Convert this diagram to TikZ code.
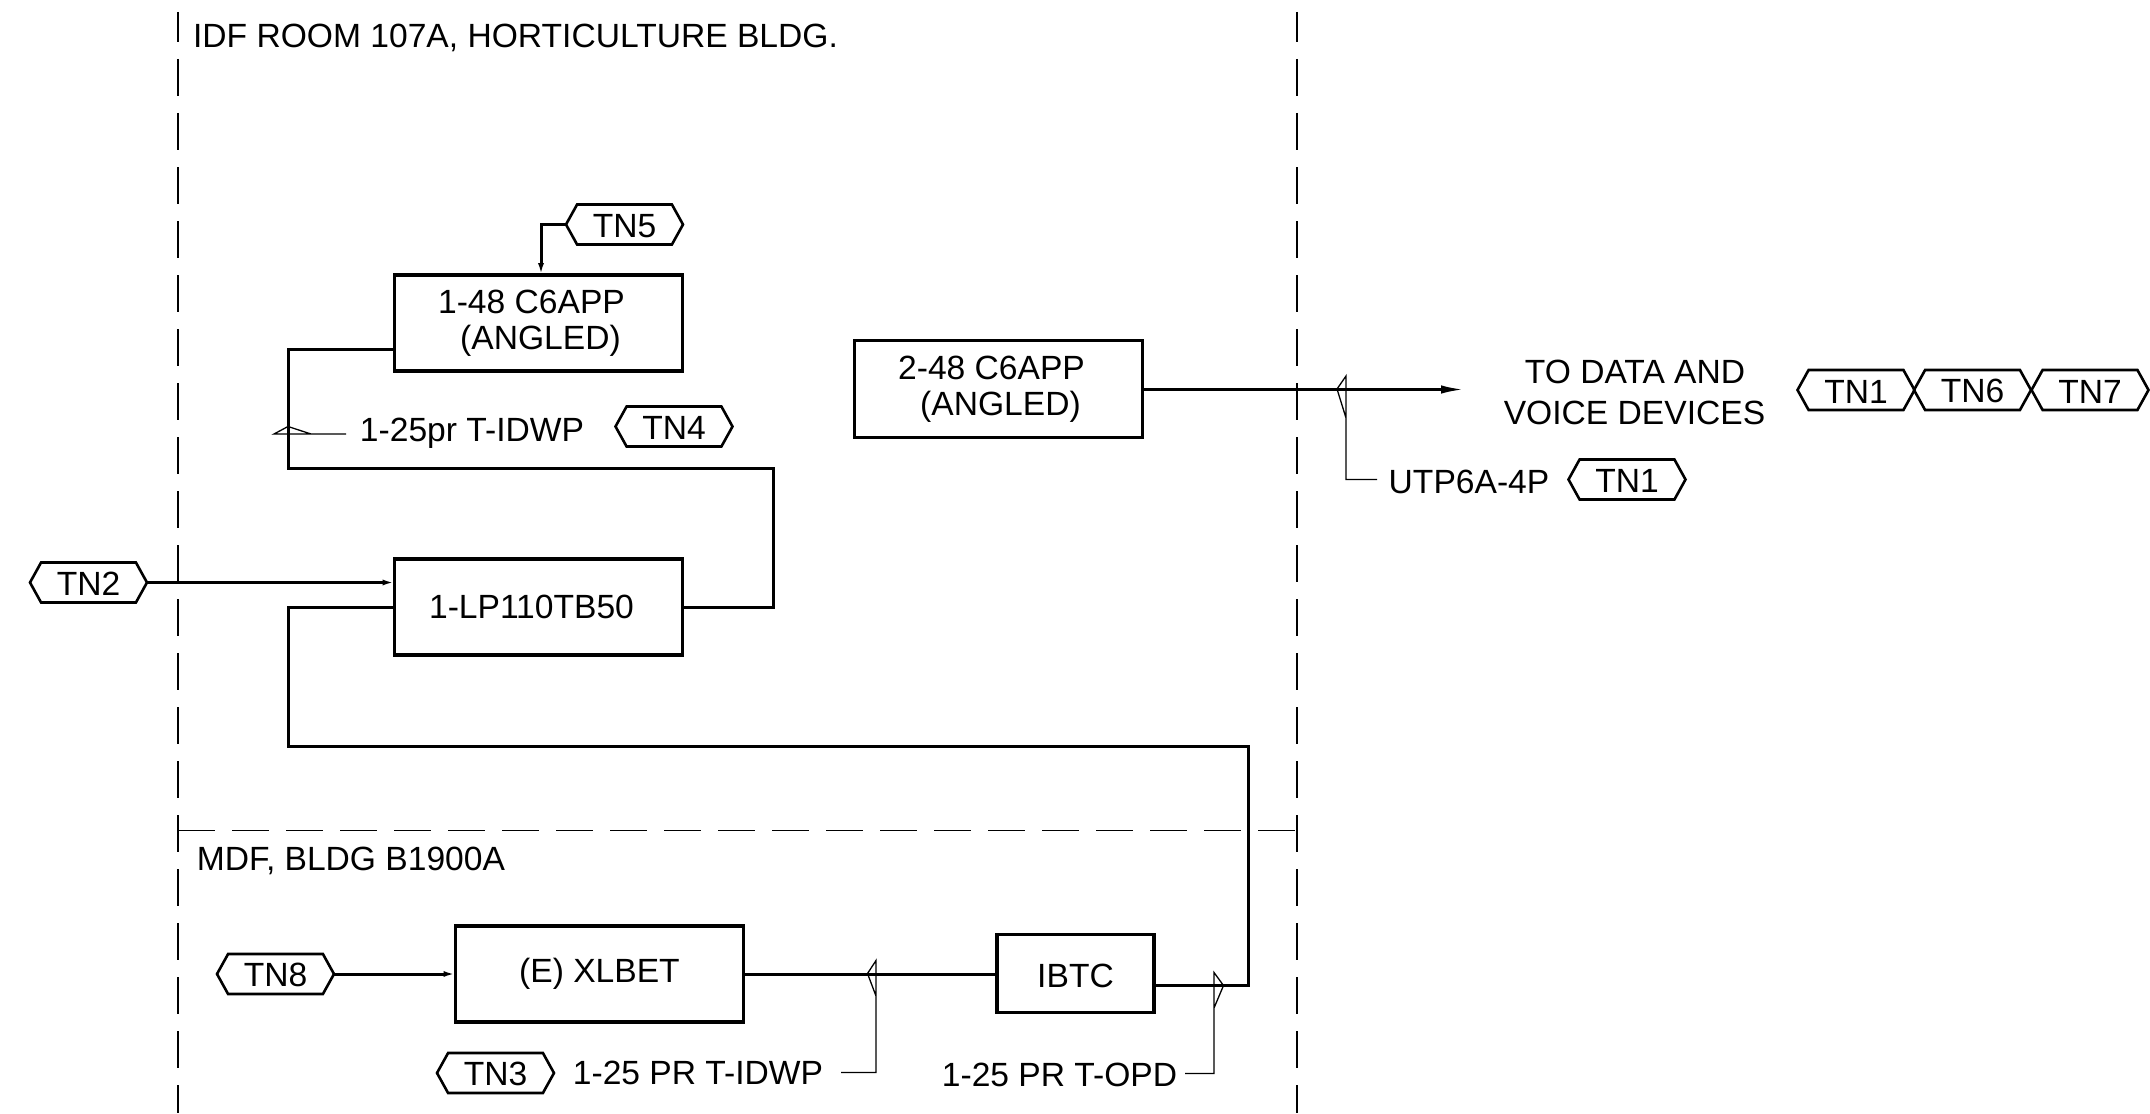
\documentclass[tikz,border=0pt]{standalone}
\usepackage{fontspec}
\setmainfont{Liberation Sans}
\usetikzlibrary{shapes.symbols,arrows.meta}
\tikzset{
  x=0.5pt,y=-0.5pt,
  every node/.style={font=\fontsize{16.8}{18}\selectfont,inner sep=0pt,outer sep=0pt},
  boxnode/.style={draw,line width=1.8pt,minimum width=#1,line join=miter},
  wire/.style={line width=1.5pt,line join=miter},
  thinwire/.style={line width=0.65pt,line join=miter},
  bound/.style={line width=0.75pt,dash pattern=on 18.5pt off 8.5pt},
  tag/.style={draw,line width=1.3pt,shape=signal,signal to=east and west,signal pointer angle=122,minimum width=58.5pt,minimum height=20pt,text height=13pt},
  smallhead/.style={-{Latex[length=6pt,width=3pt]}},
  bighead/.style={-{Latex[length=12pt,width=4.2pt]}},
}
\begin{document}
\begin{tikzpicture}
\useasboundingbox (0,0) rectangle (2150,1113);
% boundaries
\coordinate (vlt) at (178,12); \coordinate (vlb) at (178,1113);
\coordinate (vrt) at (1297,12); \coordinate (vrb) at (1297,1113);
\coordinate (hl) at (178,830.5); \coordinate (hr) at (1297,830.5);
\draw[bound,dash phase=3.5pt] (vlt) -- (vlb);
\draw[bound,dash phase=3.5pt] (vrt) -- (vrb);
\draw[bound] (hl) -- (hr);
% boxes
\node[boxnode=144pt,minimum height=48pt] (box1) at (538.5,323) {};
\node[boxnode=144pt,minimum height=48.5pt] (box2) at (998.5,389) {};
\node[boxnode=144pt,minimum height=48pt] (box3) at (538.5,607) {};
\node[boxnode=144pt,minimum height=48pt] (xlbet) at (599.5,974) {};
\node[boxnode=78.5pt,minimum height=39pt] (ibtc) at (1075.5,973.5) {};
% box texts
\node (t1a) at (531.5,302) {1-48 C6APP};
\node (t1b) at (540.5,340.5) {(ANGLED)};
\node (t2a) at (991.5,367.5) {2-48 C6APP};
\node (t2b) at (1000.5,406.5) {(ANGLED)};
\node (t3) at (531.5,606.5) {1-LP110TB50};
\node (t4) at (599.5,973.5) {(E) XLBET};
\node (t5) at (1075.5,976) {IBTC};
% tags
\node[tag] (tn5) at (624.5,224.5) {TN5};
\node[tag] (tn4) at (674,426.5) {TN4};
\node[tag] (tn2) at (88.5,582.5) {TN2};
\node[tag] (tn8) at (275.5,974) {TN8};
\node[tag] (tn3) at (495.5,1073) {TN3};
\node[tag] (tn1a) at (1856,390) {TN1};
\node[tag] (tn6) at (1972.5,390) {TN6};
\node[tag] (tn7) at (2090,390) {TN7};
\node[tag] (tn1b) at (1627,479.5) {TN1};
% labels
\node (lidf) at (515.5,38) {IDF ROOM 107A, HORTICULTURE BLDG.};
\node (lmdf) at (351,861) {MDF, BLDG B1900A};
\node (l25a) at (472,433) {1-25pr T-IDWP};
\node (l25b) at (698,1072.5) {1-25 PR T-IDWP};
\node (l25c) at (1059.5,1074.5) {1-25 PR T-OPD};
\node (lutp) at (1469,481.5) {UTP6A-4P};
\node (lto1) at (1635,372) {TO DATA AND};
\node (lto2) at (1634.5,413) {VOICE DEVICES};
% wiring bends and ends
\coordinate (a1) at (541,224.5);
\coordinate (a2) at (541,275);
\coordinate (b1) at (394.5,349.5);
\coordinate (b2) at (288,349.5);
\coordinate (b3) at (288,468);
\coordinate (b4) at (773.5,468);
\coordinate (b5) at (773.5,607);
\coordinate (c1) at (288,607);
\coordinate (c2) at (288,746);
\coordinate (c3) at (1248,746);
\coordinate (c4) at (1248,985);
\coordinate (c5) at (1154.5,985);
\coordinate (d1) at (394.5,582.5);
\coordinate (e1) at (1142.5,389.5);
\coordinate (e2) at (1465,389.5);
\coordinate (f1) at (743.5,974);
\coordinate (f2) at (997,974);
% connectors
\draw[wire,smallhead] (tn5.west) -- (a1) -- (a2);
\draw[wire] (b1) -- (b2) -- (b3) -- (b4) -- (b5) -- (box3.east);
\draw[wire] (box3.west) -- (c1) -- (c2) -- (c3) -- (c4) -- (c5);
\draw[wire,smallhead] (tn2.east) -- (d1);
\draw[wire,smallhead] (tn8.east) -- (xlbet.west);
\draw[wire,bighead] (e1) -- (e2);
\draw[wire] (f1) -- (f2);
% leaders
\coordinate (g1) at (346,434); \coordinate (g2) at (274,434);
\coordinate (g3) at (288,426.5); \coordinate (g4) at (311,434);
\draw[thinwire] (g1) -- (g2) -- (g3) -- (g4);
\coordinate (h1) at (1377,479.5); \coordinate (h2) at (1346,479.5);
\coordinate (h3) at (1346,376); \coordinate (h4) at (1337,389); \coordinate (h5) at (1346,418);
\draw[thinwire] (h1) -- (h2) -- (h3) -- (h4) -- (h5);
\coordinate (i1) at (841,1072.5); \coordinate (i2) at (876,1072.5);
\coordinate (i3) at (876,960.5); \coordinate (i4) at (867.5,973.5); \coordinate (i5) at (876,996);
\draw[thinwire] (i1) -- (i2) -- (i3) -- (i4) -- (i5);
\coordinate (j1) at (1185,1073.5); \coordinate (j2) at (1214,1073.5);
\coordinate (j3) at (1214,972.5); \coordinate (j4) at (1223.5,985.5); \coordinate (j5) at (1214,1008);
\draw[thinwire] (j1) -- (j2) -- (j3) -- (j4) -- (j5);
\end{tikzpicture}
\end{document}
